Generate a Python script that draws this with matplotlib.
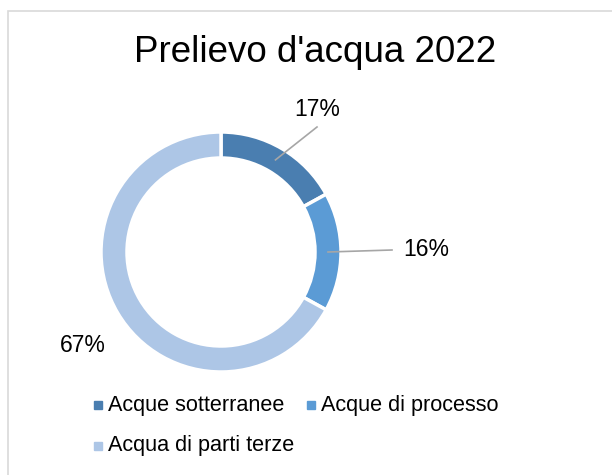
import matplotlib.pyplot as plt
from matplotlib.patches import Rectangle
import numpy as np

plt.rcParams['font.family'] = ['Liberation Sans', 'DejaVu Sans']

# data
categories = ['Acque sotterranee', 'Acque di processo', 'Acqua di parti terze']
shares = [17, 16, 67]
colors = ['#4a7eb0', '#5b9bd5', '#adc6e6']
title = "Prelievo d'acqua 2022"

W, H = 612, 475
fig = plt.figure(figsize=(W / 100, H / 100), dpi=100)
ax = fig.add_axes([0, 0, 1, 1])

# chart border
fig.patches.append(Rectangle((8 / W, -0.01), 1.2, (H - 11) / H + 0.01,
                             transform=fig.transFigure, fill=False,
                             edgecolor='#d9d9d9', linewidth=1.2))

cx, cy, r, width = 221, H - 252, 120, 26
wedges, _ = ax.pie(shares, colors=colors, startangle=90, counterclock=False,
                   center=(cx, cy), radius=r, frame=True,
                   wedgeprops=dict(width=width, edgecolor='white', linewidth=2.5))
ax.set_xlim(0, W)
ax.set_ylim(0, H)
ax.set_aspect('equal')
ax.axis('off')

ax.text(315, H - 52, title, fontsize=26.5, ha='center', va='center')

# data labels
label_pos = [(317, H - 110), (426, H - 250), (83, H - 345)]
leader = [True, True, False]
rmid = r - width / 2
for w, s, (tx, ty), ld in zip(wedges, shares, label_pos, leader):
    ax.text(tx, ty, f'{s}%', fontsize=16.5, ha='center', va='center')
    if ld:
        ang = np.deg2rad((w.theta1 + w.theta2) / 2)
        px, py = cx + rmid * np.cos(ang), cy + rmid * np.sin(ang)
        if ang > 0.5:
            ex, ey = tx, ty - 17
        else:
            ex, ey = tx - 34, ty
        ax.plot([px, ex], [py, ey], color='#a6a6a6', linewidth=1.2)

# legend
leg_pos = [(98, H - 405), (311, H - 405), (98, H - 446)]
for (lx, ly), c, name in zip(leg_pos, colors, categories):
    ax.add_patch(Rectangle((lx - 4, ly - 4), 8, 8, color=c))
    ax.text(lx + 10, ly, name, fontsize=15.6, ha='left', va='center')

plt.savefig('out.png', dpi=100)
